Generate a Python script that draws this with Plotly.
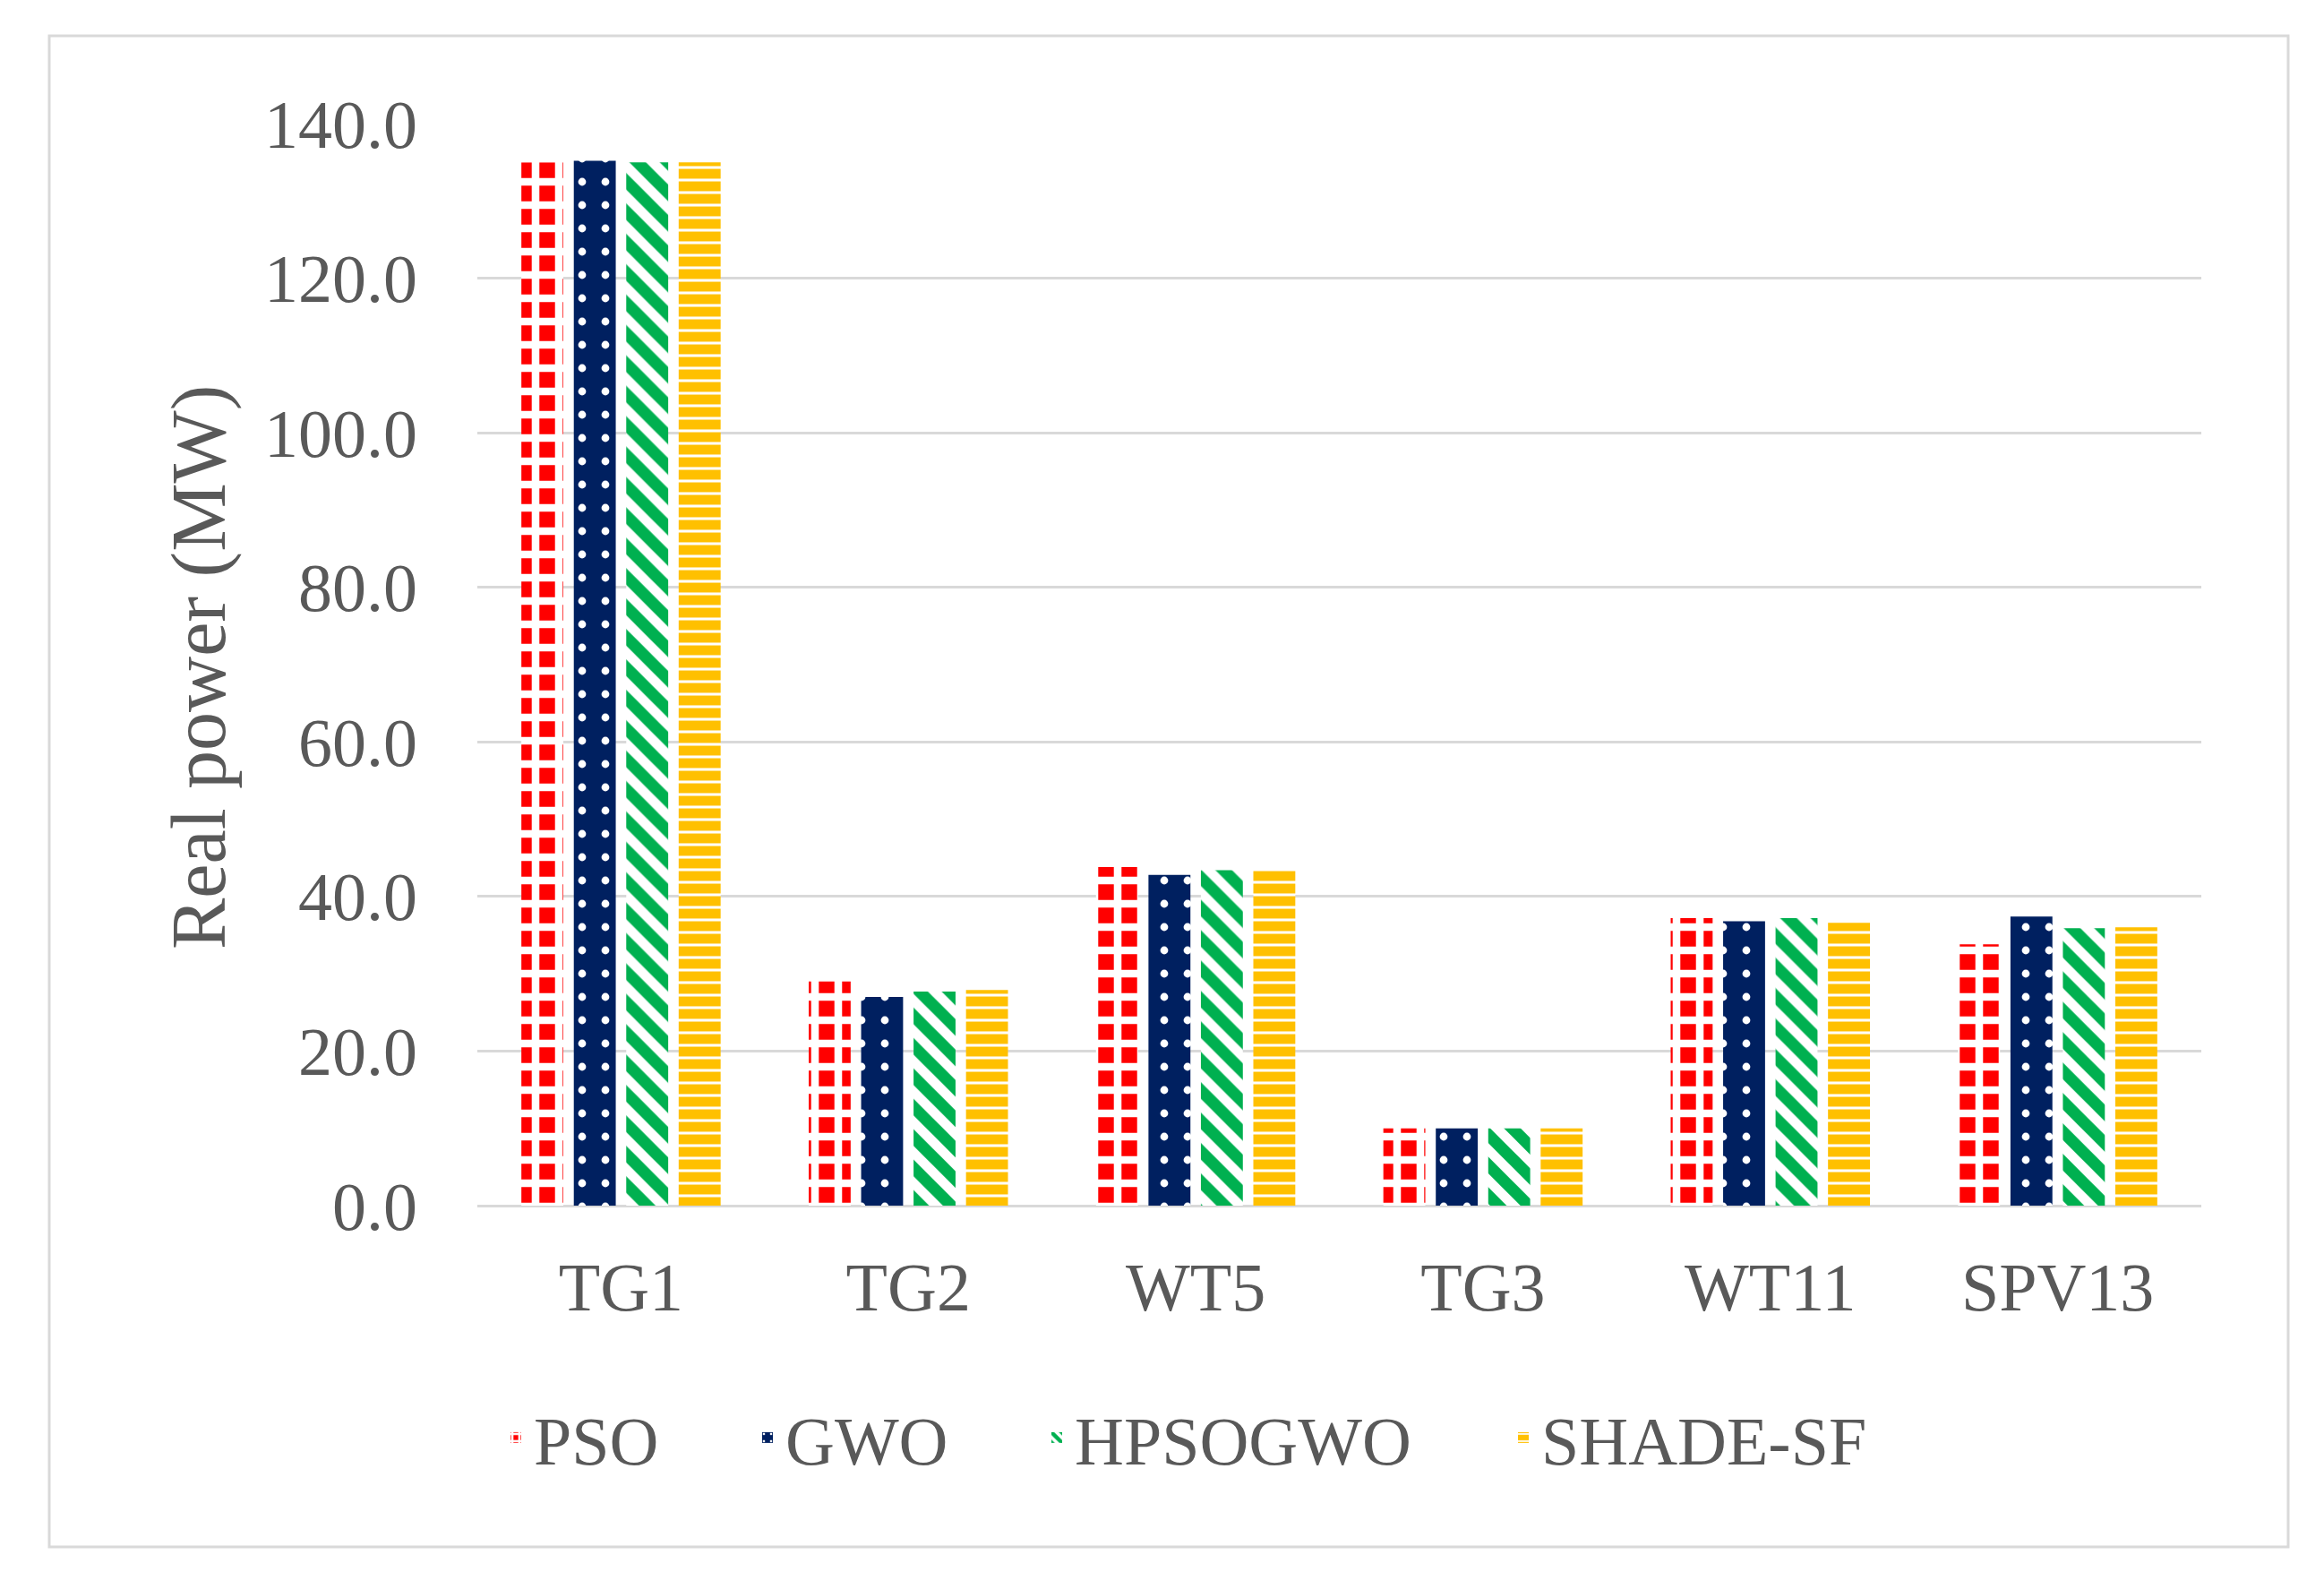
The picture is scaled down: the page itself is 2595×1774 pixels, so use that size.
import plotly.graph_objects as go

categories = ["TG1", "TG2", "WT5", "TG3", "WT11", "SPV13"]
series_names = ["PSO", "GWO", "HPSOGWO", "SHADE-SF"]
pso = [135.0, 29.0, 43.8, 10.0, 37.2, 33.8]
gwo = [135.2, 27.0, 42.8, 10.0, 36.8, 37.4]
hpsogwo = [135.0, 27.7, 43.4, 10.0, 37.2, 35.9]
shade_sf = [135.0, 27.9, 43.4, 10.0, 36.6, 36.0]
y_ticks = [0, 20, 40, 60, 80, 100, 120, 140]

values = [pso, gwo, hpsogwo, shade_sf]
colors = ["#FF0000", "#002060", "#00B050", "#FFC000"]
patterns = [
    dict(shape="+", fgcolor="#FFFFFF", bgcolor="#FF0000", size=26, solidity=0.55, fillmode="replace", fgopacity=1),
    dict(shape=".", fgcolor="#FFFFFF", bgcolor="#002060", size=26, solidity=0.09, fillmode="replace", fgopacity=1),
    dict(shape="\\", fgcolor="#00B050", bgcolor="#FFFFFF", size=24, solidity=0.55, fillmode="replace", fgopacity=1),
    dict(shape="-", fgcolor="#FFFFFF", bgcolor="#FFC000", size=14, solidity=0.22, fillmode="replace", fgopacity=1),
]

# page offset (body margin) compensation
OFF = 8
W, H = 2595 - 2 * OFF, 1774 - 2 * OFF
L, R, T, B = 533 - OFF, 2458 - OFF, 138 - OFF, 1346 - OFF
pw, ph = R - L, B - T

def px_x(x):
    return (x - OFF - L) / pw

def px_y(y):
    return (B - (y - OFF)) / ph

legend_ids = ["legend", "legend2", "legend3", "legend4"]
legend_left = [556, 837, 1160, 1681]

fig = go.Figure()
for name, vals, col, pat, lid in zip(series_names, values, colors, patterns, legend_ids):
    fig.add_trace(go.Bar(
        name=name, x=categories, y=vals,
        marker=dict(color=col, pattern=pat, line=dict(width=0)),
        legend=lid,
    ))

font_family = "Liberation Serif"
txt_col = "#595959"

layout_legends = {}
for lid, lx in zip(legend_ids, legend_left):
    layout_legends[lid] = dict(
        x=px_x(lx), xanchor="left", y=px_y(1605), yanchor="middle",
        orientation="h", bgcolor="rgba(0,0,0,0)",
        font=dict(family=font_family, size=76, color=txt_col),
    )

fig.update_layout(
    width=W, height=H,
    margin=dict(l=L, r=W - R, t=T, b=H - B, pad=0),
    paper_bgcolor="white", plot_bgcolor="white",
    barmode="group", bargap=0.27, bargroupgap=0.2,
    showlegend=True,
    **layout_legends,
    xaxis=dict(
        tickfont=dict(family=font_family, size=76, color=txt_col),
        showgrid=False, showline=False, ticks="", ticklabelstandoff=40,
    ),
    yaxis=dict(
        range=[0, 140], tickvals=y_ticks, tickformat=".1f",
        tickfont=dict(family=font_family, size=76, color=txt_col),
        showgrid=True, gridcolor="#D9D9D9", gridwidth=3,
        zeroline=True, zerolinecolor="#D9D9D9", zerolinewidth=3,
        showline=False, ticks="", ticklabelstandoff=66,
    ),
    annotations=[dict(
        text="Real power (MW)", textangle=-90, showarrow=False,
        xref="paper", yref="paper", x=px_x(222), y=px_y(745),
        xanchor="center", yanchor="middle",
        font=dict(family=font_family, size=86, color=txt_col),
    )],
    shapes=[dict(
        type="rect", xref="paper", yref="paper",
        x0=px_x(55), x1=px_x(2555), y0=px_y(1727), y1=px_y(40),
        line=dict(color="#D9D9D9", width=3), layer="below",
    )],
)

fig.write_html("out.html")
